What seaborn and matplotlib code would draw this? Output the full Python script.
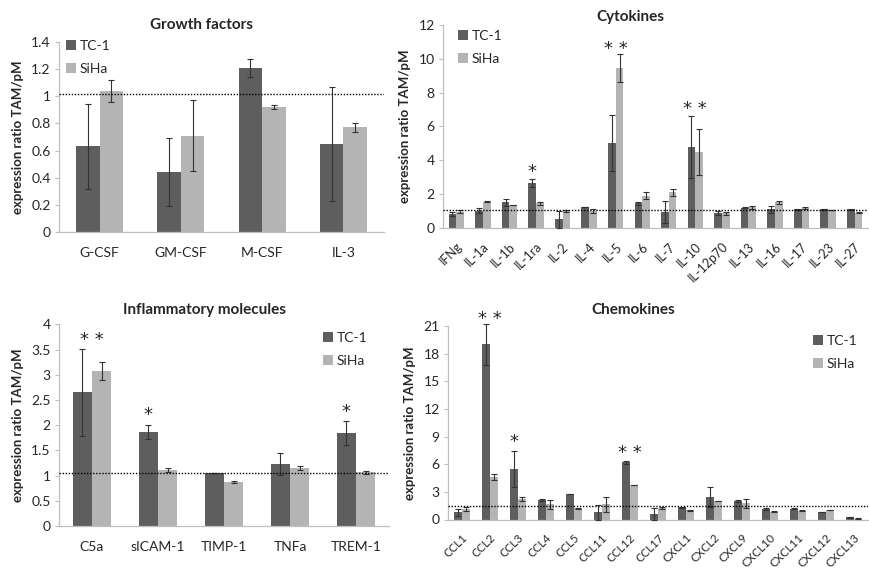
import numpy as np
import pandas as pd
import matplotlib
matplotlib.use('Agg')
import matplotlib.pyplot as plt
import seaborn as sns

# ---------------- data ----------------
gf_cats = ['G-CSF', 'GM-CSF', 'M-CSF', 'IL-3']
gf_tc1 = [0.63, 0.44, 1.21, 0.65]
gf_tc1_err = [0.31, 0.25, 0.065, 0.42]
gf_siha = [1.04, 0.71, 0.92, 0.77]
gf_siha_err = [0.08, 0.26, 0.015, 0.035]
gf_ref = 1.02
gf_stars = []

cy_cats = ['IFNg', 'IL-1a', 'IL-1b', 'IL-1ra', 'IL-2', 'IL-4', 'IL-5', 'IL-6', 'IL-7',
           'IL-10', 'IL-12p70', 'IL-13', 'IL-16', 'IL-17', 'IL-23', 'IL-27']
cy_tc1 = [0.81, 1.0, 1.5, 2.66, 0.51, 1.22, 5.0, 1.44, 0.91, 4.79, 0.85, 1.17, 1.09, 1.09, 1.09, 1.09]
cy_tc1_err = [0.12, 0.14, 0.22, 0.25, 0.5, 0.02, 1.65, 0.1, 0.65, 1.83, 0.12, 0.03, 0.2, 0.02, 0.02, 0.02]
cy_siha = [0.95, 1.54, 1.34, 1.44, 0.99, 0.97, 9.43, 1.9, 2.09, 4.5, 0.85, 1.2, 1.5, 1.17, 1.05, 0.89]
cy_siha_err = [0.1, 0.03, 0.02, 0.07, 0.07, 0.12, 0.83, 0.2, 0.2, 1.37, 0.1, 0.1, 0.1, 0.08, 0.02, 0.04]
cy_ref = 1.07
cy_stars = [('IL-1ra', '*', 3.3), ('IL-5', '* *', 10.6), ('IL-10', '* *', 7.0)]

in_cats = ['C5a', 'sICAM-1', 'TIMP-1', 'TNFa', 'TREM-1']
in_tc1 = [2.65, 1.87, 1.06, 1.23, 1.85]
in_tc1_err = [0.86, 0.14, 0.0, 0.22, 0.24]
in_siha = [3.07, 1.12, 0.87, 1.15, 1.07]
in_siha_err = [0.18, 0.04, 0.02, 0.03, 0.03]
in_ref = 1.05
in_stars = [('C5a', '* *', 3.69), ('sICAM-1', '*', 2.2), ('TREM-1', '*', 2.26)]

ch_cats = ['CCL1', 'CCL2', 'CCL3', 'CCL4', 'CCL5', 'CCL11', 'CCL12', 'CCL17', 'CXCL1',
           'CXCL2', 'CXCL9', 'CXCL10', 'CXCL11', 'CXCL12', 'CXCL13']
ch_tc1 = [0.78, 19.0, 5.48, 2.11, 2.8, 0.78, 6.2, 0.6, 1.32, 2.48, 1.97, 1.14, 1.17, 0.81, 0.24]
ch_tc1_err = [0.35, 2.2, 2.0, 0.1, 0.02, 0.8, 0.15, 0.65, 0.05, 1.1, 0.1, 0.1, 0.05, 0.05, 0.03]
ch_siha = [1.14, 4.64, 2.19, 1.64, 1.21, 1.64, 3.74, 1.28, 1.0, 2.0, 1.75, 0.85, 0.96, 1.03, 0.09]
ch_siha_err = [0.2, 0.3, 0.2, 0.45, 0.05, 0.85, 0.05, 0.1, 0.03, 0.03, 0.45, 0.03, 0.05, 0.05, 0.02]
ch_ref = 1.43
ch_stars = [('CCL2', '* *', 21.75), ('CCL3', '*', 8.44), ('CCL12', '* *', 7.18)]

# ---------------- style ----------------
DARK = '#5E5E5E'
LIGHT = '#B4B4B4'
ERR = '#333333'
W = 0.58

sns.set_theme(style='white')
plt.rcParams['font.family'] = ['Lato', 'DejaVu Sans']

FW, FH = 869, 570
fig = plt.figure(figsize=(FW / 100, FH / 100), dpi=100)


def px_rect(left, right, top, bottom):
    return [left / FW, 1 - bottom / FH, (right - left) / FW, (bottom - top) / FH]


def panel(rect, cats, tc1, tc1_err, siha, siha_err, ylim, yticks, ref, title,
          title_y, rotate, leg_px, stars, xfs=10):
    ax = fig.add_axes(rect)
    df = pd.DataFrame({'cat': cats * 2, 'val': tc1 + siha,
                       'line': ['TC-1'] * len(cats) + ['SiHa'] * len(cats)})
    sns.barplot(data=df, x='cat', y='val', hue='line', order=cats,
                hue_order=['TC-1', 'SiHa'],
                palette={'TC-1': DARK, 'SiHa': LIGHT}, width=W, errorbar=None,
                saturation=1, linewidth=0, ax=ax)
    x = np.arange(len(cats))
    ax.errorbar(x - W / 4, tc1, yerr=tc1_err, fmt='none', ecolor=ERR,
                elinewidth=0.8, capsize=2.5, capthick=0.8, clip_on=False, zorder=4)
    ax.errorbar(x + W / 4, siha, yerr=siha_err, fmt='none', ecolor=ERR,
                elinewidth=0.8, capsize=2.5, capthick=0.8, clip_on=False, zorder=4)
    ax.axhline(ref, color='black', ls=(0, (1, 1.2)), lw=1.0, zorder=5)
    ax.set_xlim(-0.5, len(cats) - 0.5)
    ax.set_ylim(*ylim)
    ax.set_yticks(yticks)
    ax.set_yticklabels(['{:g}'.format(v) for v in yticks], fontsize=10)
    ax.set_xlabel('')
    ax.set_ylabel('expression ratio TAM/pM', fontsize=9.5, fontweight='bold', labelpad=5)
    for s in ['top', 'right']:
        ax.spines[s].set_visible(False)
    for s in ['left', 'bottom']:
        ax.spines[s].set_color('#BFBFBF')
        ax.spines[s].set_linewidth(0.9)
    ax.tick_params(axis='y', left=True, length=3, width=0.8, color='#BFBFBF', pad=3)
    ax.tick_params(axis='x', bottom=False, pad=5)
    ax.set_xticks(x)
    if rotate:
        ax.set_xticklabels(cats, rotation=45, ha='right', rotation_mode='anchor', fontsize=xfs)
        ax.tick_params(axis='x', pad=3)
    else:
        ax.set_xticklabels(cats, fontsize=xfs)
    ax.text(0.44, title_y, title, transform=ax.transAxes, ha='center', va='center',
            fontsize=11, fontweight='bold')
    handles, labels = ax.get_legend_handles_labels()
    ax.legend(handles, labels, loc='upper left',
              bbox_to_anchor=(leg_px[0] / FW, 1 - leg_px[1] / FH),
              bbox_transform=fig.transFigure, frameon=False, fontsize=10,
              handlelength=0.7, handleheight=0.7, handletextpad=0.3,
              labelspacing=0.8, borderaxespad=0, borderpad=0)
    for cat, lab, yv in stars:
        i = cats.index(cat)
        xs = i - W / 4 if lab == '*' else i
        ax.text(xs, yv, lab, ha='center', va='center', fontsize=13,
                fontfamily='DejaVu Sans', clip_on=False)
    return ax


panel(px_rect(59, 384, 42, 232), gf_cats, gf_tc1, gf_tc1_err, gf_siha, gf_siha_err,
      (0, 1.4), [0, 0.2, 0.4, 0.6, 0.8, 1.0, 1.2, 1.4], gf_ref, 'Growth factors',
      1.09, False, (66, 40), gf_stars)

panel(px_rect(443, 868, 25, 227.7), cy_cats, cy_tc1, cy_tc1_err, cy_siha, cy_siha_err,
      (0, 12), [0, 2, 4, 6, 8, 10, 12], cy_ref, 'Cytokines',
      1.04, True, (458, 30), cy_stars, xfs=9)

panel(px_rect(59, 389, 324.3, 526), in_cats, in_tc1, in_tc1_err, in_siha, in_siha_err,
      (0, 4), [0, 0.5, 1, 1.5, 2, 2.5, 3, 3.5, 4], in_ref, 'Inflammatory molecules',
      1.07, False, (323, 332), in_stars)

panel(px_rect(448, 868, 326, 519.5), ch_cats, ch_tc1, ch_tc1_err, ch_siha, ch_siha_err,
      (0, 21), [0, 3, 6, 9, 12, 15, 18, 21], ch_ref, 'Chemokines',
      1.083, True, (813, 335), ch_stars, xfs=8.3)

fig.savefig('out.png', dpi=100)
